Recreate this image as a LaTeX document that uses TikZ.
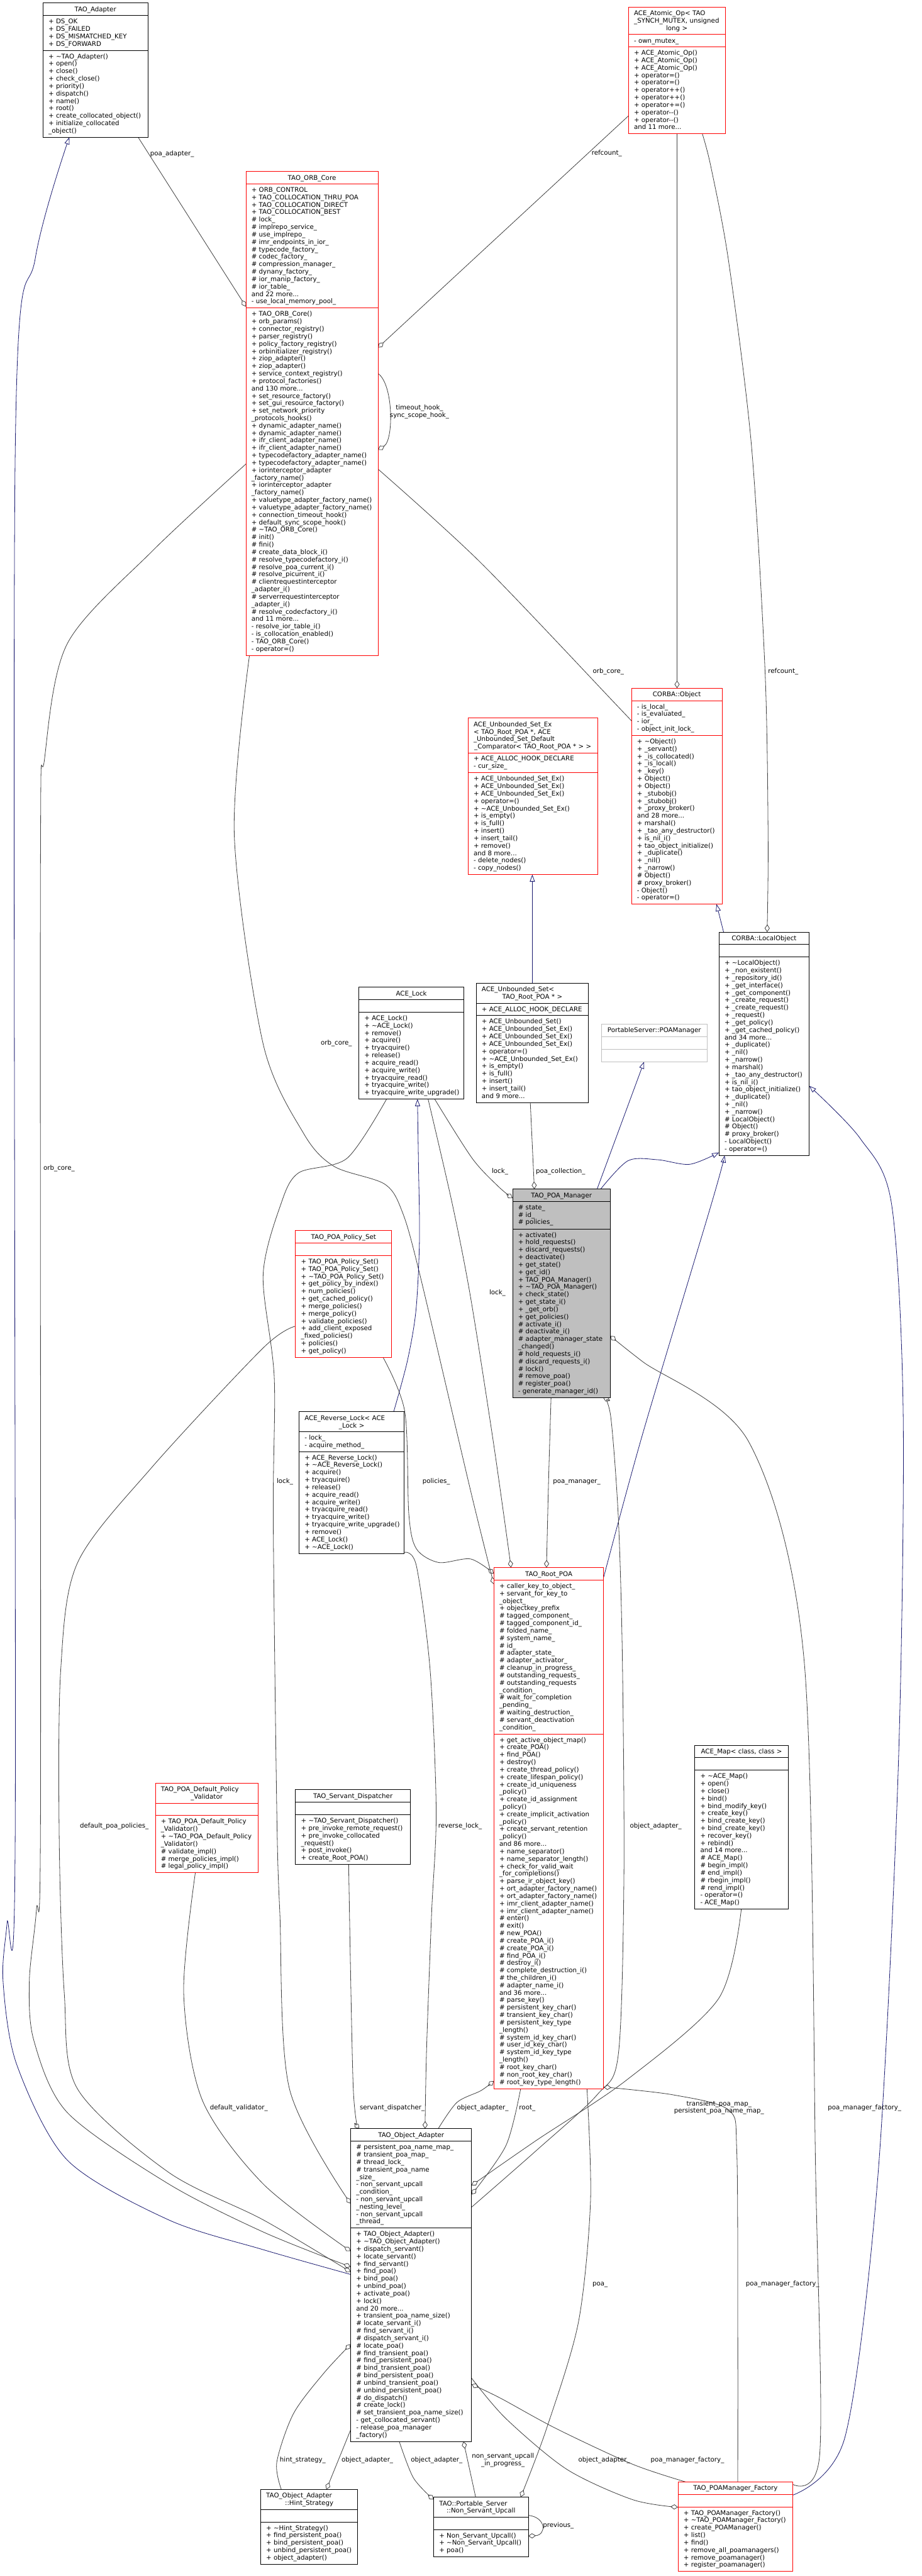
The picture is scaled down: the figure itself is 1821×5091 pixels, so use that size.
\documentclass[tikz,border=0pt]{standalone}
\usepackage{fontspec}
\setmainfont{DejaVu Sans}
\usetikzlibrary{arrows.meta,calc}
\definecolor{edgegray}{HTML}{404040}
\definecolor{inhblue}{HTML}{191970}
\definecolor{mgrfill}{HTML}{BFBFBF}
\definecolor{psgray}{HTML}{BFBFBF}
\definecolor{cred}{HTML}{FF0000}
\newcommand\ctr[1]{\leavevmode\hbox to\hsize{\hss#1\hss}}
\newcommand\tl[1]{\leavevmode\hbox to\hsize{#1\hss}}
\def\parsecounts#1/#2/#3\relax{\def\cT{#1}\def\cA{#2}\def\cM{#3}}
\pgfdeclarelayer{back}
\pgfdeclarelayer{edges}
\pgfsetlayers{back,edges,main}
\tikzset{
  classbox/.style={rectangle,inner sep=0pt,outer sep=0pt,line width=1pt,fill=white},
  txt/.style={inner sep=0pt,outer sep=0pt,align=left,font=\fontsize{12.75}{14.7}\selectfont,execute at begin node=\strut},
  lbl/.style={txt,anchor=west},
  lblc/.style={txt,align=center},
  collab/.style={draw=edgegray,line width=1pt,-{Diamond[open,length=15pt,width=10pt,line width=1pt]}},
  inh/.style={draw=inhblue,line width=1pt,-{Triangle[open,length=14pt,width=10pt,line width=1pt]}},
}
\newcommand\umlclass[9]{%
  \parsecounts#6\relax
  \pgfmathsetmacro\hT{\cT*14.7+10}%
  \pgfmathsetmacro\hA{\cA*14.7+10}%
  \pgfmathsetmacro\hM{\cM*14.7+10}%
  \pgfmathsetmacro\hAll{\hT+\hA+\hM}%
  \pgfmathsetmacro\hTA{\hT+\hA}%
  \pgfmathsetmacro\yT{-\hT}%
  \pgfmathsetmacro\yTA{-\hTA}%
  \pgfmathsetmacro\yAt{-\hT-6.5}%
  \pgfmathsetmacro\yMt{-\hTA-6.5}%
  \pgfmathsetmacro\tw{#4-22}%
  \node[classbox,draw=#5,minimum width=#4pt,minimum height=\hAll pt,anchor=north west] (#1) at (#2,#3) {};
  \draw[draw=#5,line width=1pt] ([yshift=\yT pt]#1.north west) -- ([yshift=\yT pt]#1.north east);
  \draw[draw=#5,line width=1pt] ([yshift=\yTA pt]#1.north west) -- ([yshift=\yTA pt]#1.north east);
  \node[txt,text width=\tw pt,anchor=north west] (#1-t) at ([xshift=11pt,yshift=-6.5pt]#1.north west) {#7};
  \node[txt,anchor=north west] (#1-a) at ([xshift=11pt,yshift=\yAt pt]#1.north west) {#8};
  \node[txt,anchor=north west] (#1-m) at ([xshift=11pt,yshift=\yMt pt]#1.north west) {#9};
}
\begin{document}
\begin{tikzpicture}[x=1pt,y=-1pt]
\begin{pgfonlayer}{back}
\fill[white] (0,0) rectangle (1821,5091);
\end{pgfonlayer}
\useasboundingbox (0,0) rectangle (1821,5091);

% ---------------- classes ----------------
\umlclass{adapter}{85}{6}{207}{black}{1/4/11}{\ctr{TAO\_Adapter}}
{+ DS\_OK\\+ DS\_FAILED\\+ DS\_MISMATCHED\_KEY\\+ DS\_FORWARD}
{+ \textasciitilde TAO\_Adapter()\\+ open()\\+ close()\\+ check\_close()\\+ priority()\\+ dispatch()\\+ name()\\+ root()\\+ create\_collocated\_object()\\+ initialize\_collocated\\\_object()}

\umlclass{orbcore}{486}{339}{261}{cred}{1/16/46}{\ctr{TAO\_ORB\_Core}}
{+ ORB\_CONTROL\\+ TAO\_COLLOCATION\_THRU\_POA\\+ TAO\_COLLOCATION\_DIRECT\\+ TAO\_COLLOCATION\_BEST\\\# lock\_\\\# implrepo\_service\_\\\# use\_implrepo\_\\\# imr\_endpoints\_in\_ior\_\\\# typecode\_factory\_\\\# codec\_factory\_\\\# compression\_manager\_\\\# dynany\_factory\_\\\# ior\_manip\_factory\_\\\# ior\_table\_\\and 22 more...\\- use\_local\_memory\_pool\_}
{+ TAO\_ORB\_Core()\\+ orb\_params()\\+ connector\_registry()\\+ parser\_registry()\\+ policy\_factory\_registry()\\+ orbinitializer\_registry()\\+ ziop\_adapter()\\+ ziop\_adapter()\\+ service\_context\_registry()\\+ protocol\_factories()\\and 130 more...\\+ set\_resource\_factory()\\+ set\_gui\_resource\_factory()\\+ set\_network\_priority\\\_protocols\_hooks()\\+ dynamic\_adapter\_name()\\+ dynamic\_adapter\_name()\\+ ifr\_client\_adapter\_name()\\+ ifr\_client\_adapter\_name()\\+ typecodefactory\_adapter\_name()\\+ typecodefactory\_adapter\_name()\\+ iorinterceptor\_adapter\\\_factory\_name()\\+ iorinterceptor\_adapter\\\_factory\_name()\\+ valuetype\_adapter\_factory\_name()\\+ valuetype\_adapter\_factory\_name()\\+ connection\_timeout\_hook()\\+ default\_sync\_scope\_hook()\\\# \textasciitilde TAO\_ORB\_Core()\\\# init()\\\# fini()\\\# create\_data\_block\_i()\\\# resolve\_typecodefactory\_i()\\\# resolve\_poa\_current\_i()\\\# resolve\_picurrent\_i()\\\# clientrequestinterceptor\\\_adapter\_i()\\\# serverrequestinterceptor\\\_adapter\_i()\\\# resolve\_codecfactory\_i()\\and 11 more...\\- resolve\_ior\_table\_i()\\- is\_collocation\_enabled()\\- TAO\_ORB\_Core()\\- operator=()}

\umlclass{atomic}{1242}{14}{191}{cred}{3/1/11}{\tl{ACE\_Atomic\_Op< TAO}\\\tl{\_SYNCH\_MUTEX, unsigned}\\\ctr{long >}}
{- own\_mutex\_}
{+ ACE\_Atomic\_Op()\\+ ACE\_Atomic\_Op()\\+ ACE\_Atomic\_Op()\\+ operator=()\\+ operator=()\\+ operator++()\\+ operator++()\\+ operator+=()\\+ operator-{}-()\\+ operator-{}-()\\and 11 more...}

\umlclass{corbaobj}{1248}{1360}{179}{cred}{1/4/22}{\ctr{CORBA::Object}}
{- is\_local\_\\- is\_evaluated\_\\- ior\_\\- object\_init\_lock\_}
{+ \textasciitilde Object()\\+ \_servant()\\+ \_is\_collocated()\\+ \_is\_local()\\+ \_key()\\+ Object()\\+ Object()\\+ \_stubobj()\\+ \_stubobj()\\+ \_proxy\_broker()\\and 28 more...\\+ marshal()\\+ \_tao\_any\_destructor()\\+ is\_nil\_i()\\+ tao\_object\_initialize()\\+ \_duplicate()\\+ \_nil()\\+ \_narrow()\\\# Object()\\\# proxy\_broker()\\- Object()\\- operator=()}

\umlclass{unbsetex}{925}{1419}{256}{cred}{4/2/13}{\tl{ACE\_Unbounded\_Set\_Ex}\\\tl{< TAO\_Root\_POA *, ACE}\\\tl{\_Unbounded\_Set\_Default}\\\ctr{\_Comparator< TAO\_Root\_POA * > >}}
{+ ACE\_ALLOC\_HOOK\_DECLARE\\- cur\_size\_}
{+ ACE\_Unbounded\_Set\_Ex()\\+ ACE\_Unbounded\_Set\_Ex()\\+ ACE\_Unbounded\_Set\_Ex()\\+ operator=()\\+ \textasciitilde ACE\_Unbounded\_Set\_Ex()\\+ is\_empty()\\+ is\_full()\\+ insert()\\+ insert\_tail()\\+ remove()\\and 8 more...\\- delete\_nodes()\\- copy\_nodes()}

\umlclass{localobj}{1421}{1842}{178}{black}{1/1/26}{\ctr{CORBA::LocalObject}}{}
{+ \textasciitilde LocalObject()\\+ \_non\_existent()\\+ \_repository\_id()\\+ \_get\_interface()\\+ \_get\_component()\\+ \_create\_request()\\+ \_create\_request()\\+ \_request()\\+ \_get\_policy()\\+ \_get\_cached\_policy()\\and 34 more...\\+ \_duplicate()\\+ \_nil()\\+ \_narrow()\\+ marshal()\\+ \_tao\_any\_destructor()\\+ is\_nil\_i()\\+ tao\_object\_initialize()\\+ \_duplicate()\\+ \_nil()\\+ \_narrow()\\\# LocalObject()\\\# Object()\\\# proxy\_broker()\\- LocalObject()\\- operator=()}

\umlclass{acelock}{709}{1951}{208}{black}{1/1/11}{\ctr{ACE\_Lock}}{}
{+ ACE\_Lock()\\+ \textasciitilde ACE\_Lock()\\+ remove()\\+ acquire()\\+ tryacquire()\\+ release()\\+ acquire\_read()\\+ acquire\_write()\\+ tryacquire\_read()\\+ tryacquire\_write()\\+ tryacquire\_write\_upgrade()}

\umlclass{unbset}{941}{1943}{222}{black}{2/1/11}{\tl{ACE\_Unbounded\_Set<}\\\ctr{TAO\_Root\_POA * >}}
{+ ACE\_ALLOC\_HOOK\_DECLARE}
{+ ACE\_Unbounded\_Set()\\+ ACE\_Unbounded\_Set\_Ex()\\+ ACE\_Unbounded\_Set\_Ex()\\+ ACE\_Unbounded\_Set\_Ex()\\+ operator=()\\+ \textasciitilde ACE\_Unbounded\_Set\_Ex()\\+ is\_empty()\\+ is\_full()\\+ insert()\\+ insert\_tail()\\and 9 more...}

\umlclass{psmgr}{1189}{2024}{208}{psgray}{1/1/1}{\ctr{PortableServer::POAManager}}{}{}

\umlclass{poamgr}{1013}{2350}{193}{black,fill=mgrfill}{1/3/22}{\ctr{TAO\_POA\_Manager}}
{\# state\_\\\# id\_\\\# policies\_}
{+ activate()\\+ hold\_requests()\\+ discard\_requests()\\+ deactivate()\\+ get\_state()\\+ get\_id()\\+ TAO\_POA\_Manager()\\+ \textasciitilde TAO\_POA\_Manager()\\+ check\_state()\\+ get\_state\_i()\\+ \_get\_orb()\\+ get\_policies()\\\# activate\_i()\\\# deactivate\_i()\\\# adapter\_manager\_state\\\_changed()\\\# hold\_requests\_i()\\\# discard\_requests\_i()\\\# lock()\\\# remove\_poa()\\\# register\_poa()\\- generate\_manager\_id()}

\umlclass{policyset}{584}{2432}{190}{cred}{1/1/13}{\ctr{TAO\_POA\_Policy\_Set}}{}
{+ TAO\_POA\_Policy\_Set()\\+ TAO\_POA\_Policy\_Set()\\+ \textasciitilde TAO\_POA\_Policy\_Set()\\+ get\_policy\_by\_index()\\+ num\_policies()\\+ get\_cached\_policy()\\+ merge\_policies()\\+ merge\_policy()\\+ validate\_policies()\\+ add\_client\_exposed\\\_fixed\_policies()\\+ policies()\\+ get\_policy()}

\umlclass{reverselock}{591}{2790}{208}{black}{2/2/13}{\tl{ACE\_Reverse\_Lock< ACE}\\\ctr{\_Lock >}}
{- lock\_\\- acquire\_method\_}
{+ ACE\_Reverse\_Lock()\\+ \textasciitilde ACE\_Reverse\_Lock()\\+ acquire()\\+ tryacquire()\\+ release()\\+ acquire\_read()\\+ acquire\_write()\\+ tryacquire\_read()\\+ tryacquire\_write()\\+ tryacquire\_write\_upgrade()\\+ remove()\\+ ACE\_Lock()\\+ \textasciitilde ACE\_Lock()}

\umlclass{rootpoa}{976}{3098}{217}{cred}{1/20/47}{\ctr{TAO\_Root\_POA}}
{+ caller\_key\_to\_object\_\\+ servant\_for\_key\_to\\\_object\_\\+ objectkey\_prefix\\\# tagged\_component\_\\\# tagged\_component\_id\_\\\# folded\_name\_\\\# system\_name\_\\\# id\_\\\# adapter\_state\_\\\# adapter\_activator\_\\\# cleanup\_in\_progress\_\\\# outstanding\_requests\_\\\# outstanding\_requests\\\_condition\_\\\# wait\_for\_completion\\\_pending\_\\\# waiting\_destruction\_\\\# servant\_deactivation\\\_condition\_}
{+ get\_active\_object\_map()\\+ create\_POA()\\+ find\_POA()\\+ destroy()\\+ create\_thread\_policy()\\+ create\_lifespan\_policy()\\+ create\_id\_uniqueness\\\_policy()\\+ create\_id\_assignment\\\_policy()\\+ create\_implicit\_activation\\\_policy()\\+ create\_servant\_retention\\\_policy()\\and 86 more...\\+ name\_separator()\\+ name\_separator\_length()\\+ check\_for\_valid\_wait\\\_for\_completions()\\+ parse\_ir\_object\_key()\\+ ort\_adapter\_factory\_name()\\+ ort\_adapter\_factory\_name()\\+ imr\_client\_adapter\_name()\\+ imr\_client\_adapter\_name()\\\# enter()\\\# exit()\\\# new\_POA()\\\# create\_POA\_i()\\\# create\_POA\_i()\\\# find\_POA\_i()\\\# destroy\_i()\\\# complete\_destruction\_i()\\\# the\_children\_i()\\\# adapter\_name\_i()\\and 36 more...\\\# parse\_key()\\\# persistent\_key\_char()\\\# transient\_key\_char()\\\# persistent\_key\_type\\\_length()\\\# system\_id\_key\_char()\\\# user\_id\_key\_char()\\\# system\_id\_key\_type\\\_length()\\\# root\_key\_char()\\\# non\_root\_key\_char()\\\# root\_key\_type\_length()}

\umlclass{validator}{307}{3524}{203}{cred}{2/1/7}{\tl{TAO\_POA\_Default\_Policy}\\\ctr{\_Validator}}{}
{+ TAO\_POA\_Default\_Policy\\\_Validator()\\+ \textasciitilde TAO\_POA\_Default\_Policy\\\_Validator()\\\# validate\_impl()\\\# merge\_policies\_impl()\\\# legal\_policy\_impl()}

\umlclass{servdisp}{584}{3537}{227}{black}{1/1/6}{\ctr{TAO\_Servant\_Dispatcher}}{}
{+ \textasciitilde TAO\_Servant\_Dispatcher()\\+ pre\_invoke\_remote\_request()\\+ pre\_invoke\_collocated\\\_request()\\+ post\_invoke()\\+ create\_Root\_POA()}

\umlclass{acemap}{1373}{3449}{185}{black}{1/1/18}{\ctr{ACE\_Map< class, class >}}{}
{+ \textasciitilde ACE\_Map()\\+ open()\\+ close()\\+ bind()\\+ bind\_modify\_key()\\+ create\_key()\\+ bind\_create\_key()\\+ bind\_create\_key()\\+ recover\_key()\\+ rebind()\\and 14 more...\\\# ACE\_Map()\\\# begin\_impl()\\\# end\_impl()\\\# rbegin\_impl()\\\# rend\_impl()\\- operator=()\\- ACE\_Map()}

\umlclass{objadapter}{693}{4207}{239}{black}{1/11/28}{\ctr{TAO\_Object\_Adapter}}
{\# persistent\_poa\_name\_map\_\\\# transient\_poa\_map\_\\\# thread\_lock\_\\\# transient\_poa\_name\\\_size\_\\- non\_servant\_upcall\\\_condition\_\\- non\_servant\_upcall\\\_nesting\_level\_\\- non\_servant\_upcall\\\_thread\_}
{+ TAO\_Object\_Adapter()\\+ \textasciitilde TAO\_Object\_Adapter()\\+ dispatch\_servant()\\+ locate\_servant()\\+ find\_servant()\\+ find\_poa()\\+ bind\_poa()\\+ unbind\_poa()\\+ activate\_poa()\\+ lock()\\and 20 more...\\+ transient\_poa\_name\_size()\\\# locate\_servant\_i()\\\# find\_servant\_i()\\\# dispatch\_servant\_i()\\\# locate\_poa()\\\# find\_transient\_poa()\\\# find\_persistent\_poa()\\\# bind\_transient\_poa()\\\# bind\_persistent\_poa()\\\# unbind\_transient\_poa()\\\# unbind\_persistent\_poa()\\\# do\_dispatch()\\\# create\_lock()\\\# set\_transient\_poa\_name\_size()\\- get\_collocated\_servant()\\- release\_poa\_manager\\\_factory()}

\umlclass{hint}{515}{4920}{192}{black}{2/1/5}{\tl{TAO\_Object\_Adapter}\\\ctr{::Hint\_Strategy}}{}
{+ \textasciitilde Hint\_Strategy()\\+ find\_persistent\_poa()\\+ bind\_persistent\_poa()\\+ unbind\_persistent\_poa()\\+ object\_adapter()}

\umlclass{nsu}{857}{4935}{187}{black}{2/1/3}{\tl{TAO::Portable\_Server}\\\ctr{::Non\_Servant\_Upcall}}{}
{+ Non\_Servant\_Upcall()\\+ \textasciitilde Non\_Servant\_Upcall()\\+ poa()}

\umlclass{factory}{1340}{4905}{227}{cred}{1/1/8}{\ctr{TAO\_POAManager\_Factory}}{}
{+ TAO\_POAManager\_Factory()\\+ \textasciitilde TAO\_POAManager\_Factory()\\+ create\_POAManager()\\+ list()\\+ find()\\+ remove\_all\_poamanagers()\\+ remove\_poamanager()\\+ register\_poamanager()}

% ---------------- connector end points ----------------
\coordinate (e2s) at ($(objadapter.north west)+(0,288)$);
\coordinate (e2t) at ($(adapter.south west)+(52,0)$);
\coordinate (e5s) at ($(atomic.south west)+(146,0)$);
\coordinate (e5t) at ($(localobj.north west)+(95,0)$);
\coordinate (e7s) at ($(orbcore.north east)+(0,588)$);
\coordinate (e7t) at ($(corbaobj.north west)+(0,65)$);
\coordinate (e8s) at ($(orbcore.south west)+(7,0)$);
\coordinate (e8t) at ($(rootpoa.north west)+(0,33)$);
\coordinate (e9s) at ($(orbcore.north west)+(0,578)$);
\coordinate (e9t) at ($(objadapter.north west)+(0,273)$);
\coordinate (e10s) at ($(policyset.north west)+(0,189)$);
\coordinate (e10t) at ($(objadapter.north west)+(0,283)$);
\coordinate (e11s) at ($(acelock.south west)+(55,0)$);
\coordinate (e11t) at ($(objadapter.north west)+(0,148)$);
\coordinate (e12s) at ($(acelock.south west)+(137,0)$);
\coordinate (e12t) at ($(rootpoa.north west)+(34,0)$);
\coordinate (e13s) at ($(acelock.south west)+(150,0)$);
\coordinate (e13t) at ($(poamgr.north west)+(0,18)$);
\coordinate (e14s) at ($(reverselock.north west)+(187,0)$);
\coordinate (e14t) at ($(acelock.south west)+(116,0)$);
\coordinate (e17s) at ($(poamgr.north west)+(174,0)$);
\coordinate (e17t) at ($(localobj.south west)+(0,-6)$);
\coordinate (e19s) at ($(rootpoa.north east)+(0,19)$);
\coordinate (e19t) at ($(localobj.south west)+(11,0)$);
\coordinate (e20s) at ($(factory.north east)+(0,26)$);
\coordinate (e20t) at ($(localobj.north east)+(0,304)$);
\coordinate (e22s) at ($(poamgr.south west)+(76,0)$);
\coordinate (e22t) at ($(rootpoa.north west)+(104,0)$);
\coordinate (e23s) at ($(objadapter.north east)+(0,155)$);
\coordinate (e23t) at ($(poamgr.south west)+(179,0)$);
\coordinate (e24s) at ($(factory.north east)+(0,5)$);
\coordinate (e24t) at ($(poamgr.north east)+(0,290)$);
\coordinate (e25s) at ($(factory.north west)+(118,0)$);
\coordinate (e25t) at ($(rootpoa.south east)+(0,-3)$);
\coordinate (e26s) at ($(acemap.south west)+(92,0)$);
\coordinate (e26t) at ($(objadapter.north east)+(0,112)$);
\coordinate (e27s) at ($(rootpoa.south west)+(53,0)$);
\coordinate (e27t) at ($(objadapter.north east)+(0,130)$);
\coordinate (e28s) at ($(objadapter.north west)+(173,0)$);
\coordinate (e28t) at ($(rootpoa.south west)+(0,-15)$);
\coordinate (e29s) at ($(servdisp.south west)+(105,0)$);
\coordinate (e29t) at ($(objadapter.north west)+(17,0)$);
\coordinate (e30s) at ($(reverselock.south east)+(0,-2)$);
\coordinate (e30t) at ($(objadapter.north west)+(147,0)$);
\coordinate (e31s) at ($(validator.south west)+(79,0)$);
\coordinate (e31t) at ($(objadapter.north west)+(0,242)$);
\coordinate (e32s) at ($(policyset.south west)+(173,0)$);
\coordinate (e32t) at ($(rootpoa.north west)+(0,12)$);
\coordinate (e33s) at ($(hint.north west)+(41,0)$);
\coordinate (e33t) at ($(objadapter.north west)+(0,426)$);
\coordinate (e35s) at ($(objadapter.south west)+(96,0)$);
\coordinate (e35t) at ($(nsu.north west)+(0,5)$);
\coordinate (e37s) at ($(rootpoa.south west)+(184,0)$);
\coordinate (e37t) at ($(nsu.north west)+(172,0)$);
\coordinate (e39s) at ($(objadapter.north east)+(0,493)$);
\coordinate (e39t) at ($(factory.north west)+(0,50)$);
\coordinate (e40s) at ($(factory.north west)+(15,0)$);
\coordinate (e40t) at ($(objadapter.north east)+(0,505)$);

% ---------------- connectors ----------------
\begin{pgfonlayer}{edges}
\draw[collab] ($(adapter.south west)+(188,0)$) -- ($(orbcore.north west)+(0,267)$);
\draw[inh] plot[smooth,tension=0.5] coordinates {(e2s) (520,4446) (333,4387) (133,4269) (33,4080) (6,3915) (14,3800) (30,3632) (30,900) (70,509) (e2t)};
\draw[collab] ($(atomic.north west)+(0,215)$) -- ($(orbcore.north east)+(0,348)$);
\draw[collab] ($(atomic.south west)+(96,0)$) -- ($(corbaobj.north west)+(90,0)$);
\draw[collab] plot[smooth] coordinates {(e5s) (1405,330) (1440,517) (1485,880) (1512,1328) (1518,1660) (e5t)};
\draw[collab] ($(orbcore.north east)+(0,399)$) .. controls (778,760) and (778,870) .. ($(orbcore.north east)+(0,550)$);
\draw[collab] plot[smooth] coordinates {(e7s) (950,1112) (1220,1395) (e7t)};
\draw[collab] plot[smooth] coordinates {(e8s) (463,1650) (520,2063) (600,2240) (660,2305) (760,2340) (795,2395) (830,2520) (930,2946) (e8t)};
\draw[collab] plot[smooth,tension=0.5] coordinates {(e9s) (300,1090) (133,1272) (88,1500) (80,1700) (80,3600) (72,3774) (58,3915) (67,4033) (133,4175) (333,4316) (520,4411) (e9t)};
\draw[collab] plot[smooth,tension=0.5] coordinates {(e10s) (520,2664) (300,2900) (153,3089) (120,3300) (117,3632) (127,3939) (153,4128) (333,4293) (520,4387) (e10t)};
\draw[collab] plot[smooth] coordinates {(e11s) (686,2289) (590,2318) (555,2380) (520,2520) (542,2723) (540,3000) (547,3580) (553,3780) (572,4128) (e11t)};
\draw[collab] plot[smooth] coordinates {(e12s) (894,2380) (930,2564) (975,2850) (e12t)};
\draw[collab] plot[smooth] coordinates {(e13s) (933,2289) (985,2345) (e13t)};
\draw[inh] plot[smooth] coordinates {(e14s) (805,2690) (822,2590) (829,2450) (827,2300) (e14t)};
\draw[collab] ($(unbset.south west)+(107,0)$) -- ($(poamgr.north west)+(43,0)$);
\draw[inh] ($(poamgr.north west)+(167,0)$) -- ($(psmgr.south west)+(84,0)$);
\draw[inh] plot[smooth] coordinates {(e17s) (1241,2294) (1300,2292) (1363,2301) (e17t)};
\draw[inh] ($(localobj.north west)+(9,0)$) -- ($(corbaobj.south west)+(168,0)$);
\draw[inh] plot[smooth] coordinates {(e19s) (1270,2834) (1406,2379) (e19t)};
\draw[inh] plot[smooth] coordinates {(e20s) (1670,4816) (1735,4300) (1775,3500) (1785,2800) (1762,2380) (1700,2250) (e20t)};
\draw[inh] ($(unbset.north west)+(111,0)$) -- ($(unbsetex.south west)+(127,0)$);
\draw[collab] plot[smooth] coordinates {(e22s) (1084,2930) (e22t)};
\draw[collab] plot[smooth] coordinates {(e23s) (1060,4250) (1180,4140) (1222,4060) (1233,3713) (1230,3280) (1222,3000) (1207,2800) (e23t)};
\draw[collab] plot[smooth] coordinates {(e24s) (1620,4850) (1612,4300) (1589,3280) (1480,2850) (1270,2691) (e24t)};
\draw[collab] plot[smooth] coordinates {(e25s) (1458,4600) (1456,4250) (1440,4170) (1330,4140) (e25t)};
\draw[collab] plot[smooth] coordinates {(e26s) (1420,3950) (1238,4111) (1060,4230) (e26t)};
\draw[collab] plot[smooth] coordinates {(e27s) (1000,4240) (e27t)};
\draw[collab] plot[smooth] coordinates {(e28s) (903,4155) (950,4132) (e28t)};
\draw[collab] plot[smooth] coordinates {(e29s) (698,4124) (e29t)};
\draw[collab] plot[smooth] coordinates {(e30s) (823,3095) (850,3300) (862,3580) (853,3780) (843,4050) (e30t)};
\draw[collab] plot[smooth] coordinates {(e31s) (363,3939) (400,4151) (520,4316) (e31t)};
\draw[collab] plot[smooth] coordinates {(e32s) (800,2790) (808,2993) (823,3061) (867,3088) (930,3081) (e32t)};
\draw[collab] plot[smooth] coordinates {(e33s) (547,4866) (580,4770) (640,4690) (e33t)};
\draw[collab] ($(objadapter.south west)+(0,-23)$) -- ($(hint.north west)+(130,0)$);
\draw[collab] plot[smooth] coordinates {(e35s) (817,4897) (e35t)};
\draw[collab] ($(nsu.north west)+(83,0)$) -- ($(objadapter.south west)+(223,0)$);
\draw[collab] plot[smooth] coordinates {(e37s) (1167,4350) (1143,4590) (1080,4800) (e37t)};
\draw[collab] ($(nsu.north east)+(0,36)$) .. controls (1080,4975) and (1080,5010) .. ($(nsu.north east)+(0,77)$);
\draw[collab] plot[smooth] coordinates {(e39s) (1000,4780) (1120,4880) (1250,4940) (e39t)};
\draw[collab] plot[smooth] coordinates {(e40s) (1250,4870) (1100,4800) (990,4740) (e40t)};
\end{pgfonlayer}

% ---------------- connector labels ----------------
\node[lbl] (L1) at (297,305) {poa\_adapter\_};
\node[lbl,anchor=east] (L2) at (1229,304) {refcount\_};
\node[lbl] (L3) at (1518,1327) {refcount\_};
\node[lblc] (L4) at (829,815) {timeout\_hook\_\\sync\_scope\_hook\_};
\node[lbl,anchor=east] (L5) at (1233,1328) {orb\_core\_};
\node[lbl] (L6) at (634,2062) {orb\_core\_};
\node[lbl] (L7) at (972,2316) {lock\_};
\node[lbl] (L8) at (1059,2316) {poa\_collection\_};
\node[lbl] (L9) at (967,2556) {lock\_};
\node[lbl] (L10) at (1093,2929) {poa\_manager\_};
\node[lbl] (L11) at (547,2929) {lock\_};
\node[lbl] (L12) at (835,2929) {policies\_};
\node[lbl] (L13) at (158,3610) {default\_poa\_policies\_};
\node[lbl] (L14) at (866,3610) {reverse\_lock\_};
\node[lbl] (L15) at (1245,3610) {object\_adapter\_};
\node[lbl] (L16) at (415,4166) {default\_validator\_};
\node[lbl] (L17) at (711,4166) {servant\_dispatcher\_};
\node[lbl] (L18) at (903,4166) {object\_adapter\_};
\node[lbl] (L19) at (1026,4166) {root\_};
\node[lblc] (L20) at (1421,4166) {transient\_poa\_map\_\\persistent\_poa\_name\_map\_};
\node[lbl] (L21) at (1636,4166) {poa\_manager\_factory\_};
\node[lbl] (L22) at (1171,4514) {poa\_};
\node[lbl] (L23) at (1474,4514) {poa\_manager\_factory\_};
\node[lbl] (L24) at (553,4863) {hint\_strategy\_};
\node[lbl] (L25) at (675,4863) {object\_adapter\_};
\node[lbl] (L26) at (812,4863) {object\_adapter\_};
\node[lblc] (L27) at (994,4863) {non\_servant\_upcall\\\_in\_progress\_};
\node[lbl] (L28) at (1143,4863) {object\_adapter\_};
\node[lbl] (L29) at (1286,4863) {poa\_manager\_factory\_};
\node[lbl] (L30) at (1073,4992) {previous\_};
\node[lbl] (L31) at (86,2310) {orb\_core\_};
\end{tikzpicture}
\end{document}
